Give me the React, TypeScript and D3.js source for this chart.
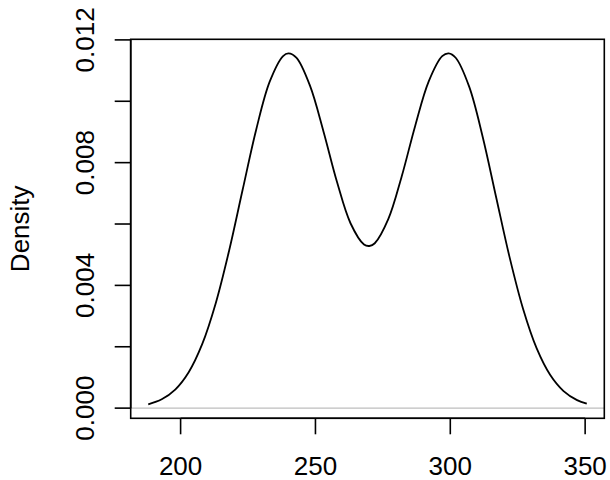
import React from "react";
import * as d3 from "d3";

const xs = [188, 193, 198, 203, 208, 213, 218, 223, 228, 233, 238, 240, 243, 248, 253, 258, 263, 268, 270, 272, 277, 282, 287, 292, 297, 299.4, 302, 307, 312, 317, 322, 327, 332, 337, 342, 347, 350.6];
const ys = [0.000126, 0.000288, 0.000605, 0.001171, 0.002084, 0.003411, 0.005137, 0.007115, 0.009066, 0.010631, 0.011474, 0.011562, 0.011415, 0.0105, 0.00901, 0.007368, 0.006025, 0.005333, 0.005284, 0.005373, 0.006157, 0.007558, 0.009206, 0.010648, 0.01147, 0.011562, 0.011419, 0.010476, 0.008846, 0.006873, 0.004912, 0.00323, 0.001953, 0.001087, 0.000556, 0.000262, 0.000144];
const xTicks = [200, 250, 300, 350];
const yTicks = [0, 0.002, 0.004, 0.006, 0.008, 0.01, 0.012];
const yTickLabels = ["0.000", "", "0.004", "", "0.008", "", "0.012"];
const yLabel = "Density";

export default function App() {
  const left = 130.7, right = 604.3, top = 39.3, bottom = 418.3;
  const [xmin, xmax] = d3.extent(xs) as [number, number];
  const [ymin, ymax] = d3.extent(ys) as [number, number];
  const xr = xmax - xmin, yr = ymax - ymin;
  const x = d3.scaleLinear().domain([xmin - 0.04 * xr, xmax + 0.04 * xr]).range([left, right]);
  const y = d3.scaleLinear().domain([ymin - 0.04 * yr, ymax + 0.04 * yr]).range([bottom, top]);
  const line = d3.line<number>().x((_, i) => x(xs[i])).y((d) => y(d)).curve(d3.curveCatmullRom);
  const font = "'Liberation Sans', Arial, sans-serif";
  const fs = 26;
  return (
    <svg width={610} height={480} style={{ position: "absolute", left: 0, top: 0, background: "#fff" }}>
      <rect x={0} y={0} width={610} height={480} fill="#fff" />
      <line x1={left} x2={right} y1={y(0)} y2={y(0)} stroke="#bebebe" strokeWidth={1.3} />
      <path d={line(ys) || ""} fill="none" stroke="#000" strokeWidth={1.8} />
      <rect x={left} y={top} width={right - left} height={bottom - top} fill="none" stroke="#000" strokeWidth={1.6} />
      {/* x axis */}
      <line x1={x(xTicks[0])} x2={x(xTicks[xTicks.length - 1])} y1={bottom} y2={bottom} stroke="#000" strokeWidth={1.6} />
      {xTicks.map((t) => (
        <g key={t}>
          <line x1={x(t)} x2={x(t)} y1={bottom} y2={bottom + 16} stroke="#000" strokeWidth={1.6} />
          <text x={x(t)} y={475} textAnchor="middle" fontFamily={font} fontSize={fs}>{t}</text>
        </g>
      ))}
      {/* y axis */}
      <line x1={left} x2={left} y1={y(yTicks[0])} y2={y(yTicks[yTicks.length - 1])} stroke="#000" strokeWidth={1.6} />
      {yTicks.map((t, i) => (
        <g key={t}>
          <line x1={left - 16} x2={left} y1={y(t)} y2={y(t)} stroke="#000" strokeWidth={1.6} />
          {yTickLabels[i] && (
            <text transform={`translate(93.5,${y(t)}) rotate(-90)`} textAnchor="middle" fontFamily={font} fontSize={fs}>{yTickLabels[i]}</text>
          )}
        </g>
      ))}
      <text transform={`translate(28.5,${(top + bottom) / 2}) rotate(-90)`} textAnchor="middle" fontFamily={font} fontSize={fs}>{yLabel}</text>
    </svg>
  );
}
